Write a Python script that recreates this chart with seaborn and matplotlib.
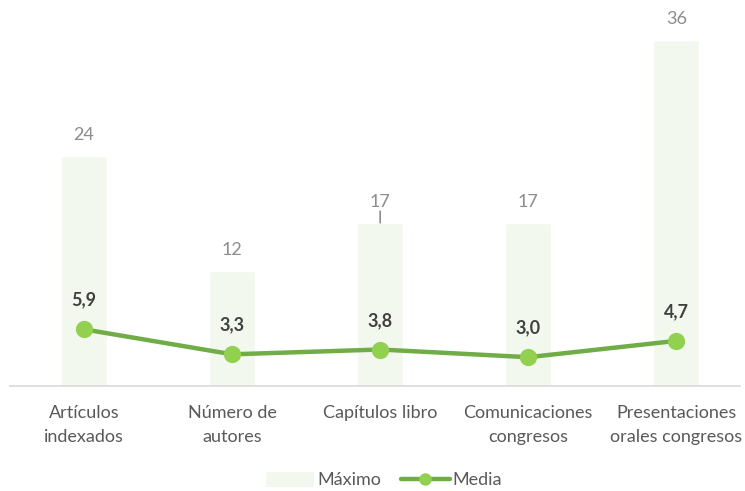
import matplotlib
matplotlib.use("Agg")
import matplotlib.pyplot as plt
import seaborn as sns
import pandas as pd
from matplotlib.patches import Patch
from matplotlib.lines import Line2D

# Data
categorias = ["Artículos\nindexados", "Número de\nautores", "Capítulos libro",
              "Comunicaciones\ncongresos", "Presentaciones\norales congresos"]
maximo = [24, 12, 17, 17, 36]
media = [5.9, 3.3, 3.8, 3.0, 4.7]

df = pd.DataFrame({"categoria": categorias, "maximo": maximo, "media": media})

bar_color = "#F3F8EF"
line_color = "#70AD47"
marker_color = "#92D050"

sns.set_theme(style="white")
plt.rcParams["font.family"] = ["Lato", "DejaVu Sans"]

fig = plt.figure(figsize=(7.45, 4.91), dpi=100)
ax = fig.add_axes([10 / 745, 105 / 491, 730 / 745, 386 / 491])

sns.barplot(data=df, x="categoria", y="maximo", color=bar_color, width=0.31,
            saturation=1, ax=ax, zorder=1)
sns.pointplot(data=df, x="categoria", y="media", color=line_color, errorbar=None,
              markers="o", markersize=10, linewidth=3.2,
              markerfacecolor=marker_color, markeredgecolor=marker_color, ax=ax)

ax.set_xlim(-0.5, 4.43)
ax.set_ylim(0, 40.2)
ax.set_xlabel("")
ax.set_ylabel("")
ax.set_yticks([])
for side in ["top", "right", "left"]:
    ax.spines[side].set_visible(False)
ax.spines["bottom"].set_color("#D9D9D9")
ax.spines["bottom"].set_linewidth(1.2)
ax.tick_params(axis="x", length=0, pad=14, labelsize=13, labelcolor="#595959")
for lbl in ax.get_xticklabels():
    lbl.set_linespacing(1.55)

# Value labels
for i, v in enumerate(maximo):
    ax.annotate(str(v), (i, v), xytext=(0, 15), textcoords="offset points",
                ha="center", va="center", fontsize=13, color="#8C8C8C")
for i, v in enumerate(media):
    ax.annotate(f"{v:.1f}".replace(".", ","), (i, v), xytext=(0, 21),
                textcoords="offset points", ha="center", va="center",
                fontsize=13, fontweight="bold", color="#404040")

# small leader line above "Capítulos libro" bar
ax.annotate("", xy=(2, maximo[2]), xytext=(2, maximo[2] + 1.2),
            arrowprops=dict(arrowstyle="-", color="#8C8C8C", lw=1.2,
                            shrinkA=0, shrinkB=0))

handles = [Patch(facecolor=bar_color, edgecolor="none"),
           Line2D([0], [0], color=line_color, lw=3.2, marker="o", markersize=8,
                  markerfacecolor=marker_color, markeredgecolor=marker_color)]
fig.legend(handles, ["Máximo", "Media"], loc="center", bbox_to_anchor=(0.515, 11 / 491),
           ncol=2, frameon=False, fontsize=13, labelcolor="#595959",
           handlelength=2.7, handleheight=0.9, handletextpad=0.15, columnspacing=1.1)

fig.savefig("out.png", dpi=100)
